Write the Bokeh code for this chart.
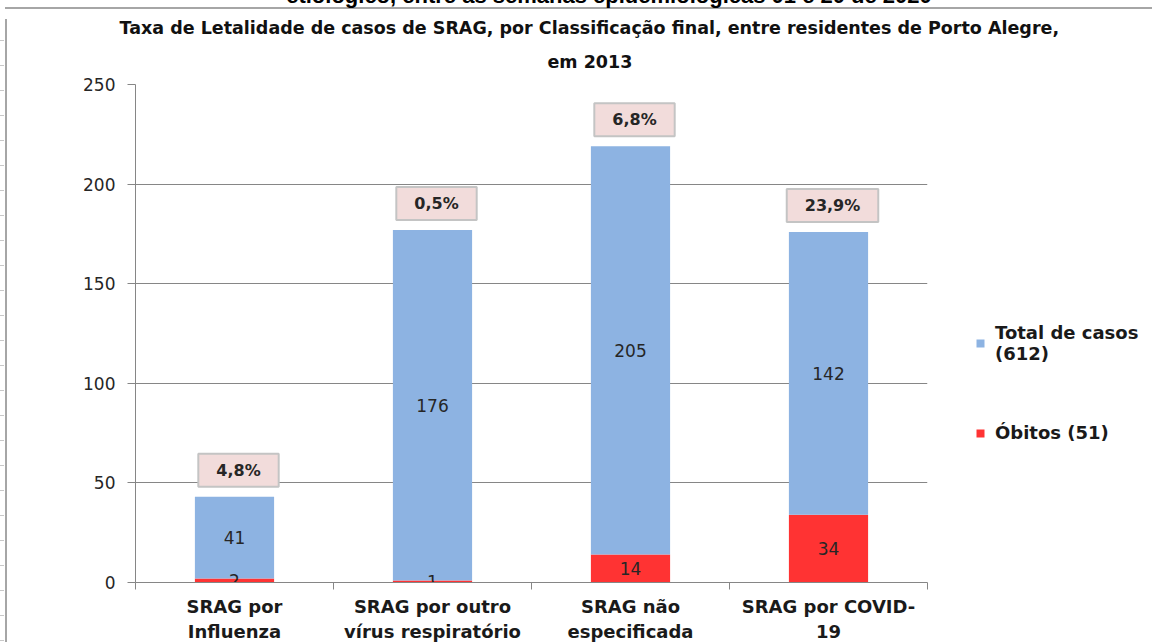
from bokeh.plotting import figure
from bokeh.models import (ColumnDataSource, Range1d, FixedTicker, Legend, LegendItem, Div, Title)
from bokeh.layouts import column, row
from bokeh.core.properties import value
from bokeh.embed import file_html
from bokeh.resources import INLINE

categories = ["SRAG por\nInfluenza", "SRAG por outro\nvírus respiratório",
              "SRAG não\nespecificada", "SRAG por COVID-\n19"]
obitos = [2, 1, 14, 34]
total_casos = [41, 176, 205, 142]
letalidade = ["4,8%", "0,5%", "6,8%", "23,9%"]
legend_labels = ["Total de casos\n(612)", "Óbitos (51)"]
y_ticks = [0, 50, 100, 150, 200, 250]
title_line1 = "Taxa de Letalidade de casos de SRAG, por Classificação final, entre residentes de Porto Alegre,"
title_line2 = "em 2013"
heading_text = "etiológico, entre as semanas epidemiológicas 01 e 20 de 2020"

BLUE = "#8db3e2"
RED = "#ff3333"
GRID = "#868686"
FRAME = "#a6a6a6"

xs = [i + 0.5 for i in range(len(categories))]
tops = [a + b for a, b in zip(obitos, total_casos)]
src = ColumnDataSource(dict(
    x=xs, obitos=obitos, casos=total_casos, top=tops,
    mid_ob=[o / 2 for o in obitos],
    mid_ca=[o + c / 2 for o, c in zip(obitos, total_casos)],
    lab_ob=[str(v) for v in obitos], lab_ca=[str(v) for v in total_casos],
    pct=letalidade,
))

TOPH, LEFTW = 4, 2
FW, FH = 792, 498
BL, BR, BT, BB = 123, 225, 70, 60
p = figure(frame_width=FW, frame_height=FH, output_backend="svg", toolbar_location=None,
           x_range=Range1d(0, len(categories)), y_range=Range1d(0, 250),
           min_border_left=BL, min_border_right=BR, min_border_top=BT, min_border_bottom=BB)
p.outline_line_color = None
p.background_fill_color = "white"
p.border_fill_color = "white"

rs = p.vbar_stack(["obitos", "casos"], x="x", width=0.4, source=src,
                  color=[RED, BLUE], line_color=None)

lab_font = value("DejaVu Sans")
p.text(x="x", y="mid_ca", text="lab_ca", source=src, text_align="center",
       text_baseline="middle", text_font=lab_font, text_font_size="17px", text_color="#262626")
p.text(x="x", y="mid_ob", text="lab_ob", source=src, text_align="center",
       text_baseline="middle", text_font=lab_font, text_font_size="17px", text_color="#262626")
p.text(x="x", y="top", text="pct", source=src, text_align="center",
       text_baseline="bottom", y_offset=-10, x_offset=4,
       text_font=value("DejaVu Sans"), text_font_style="bold", text_font_size="16px",
       text_color="#262626",
       background_fill_color="#f2dcdb", border_line_color="#c4c4c4", border_line_width=2,
       padding=dict(left=18, right=18, top=7, bottom=7))

# title: two lines (p.title is the outer one, the added Title sits next to the plot)
TFONT, TSIZE = "DejaVu Sans", "17.5px"
p.title.text = title_line1
p.title.align = "left"
p.title.offset = -16
p.title.standoff = 0
p.title.text_font = TFONT
p.title.text_font_style = "bold"
p.title.text_font_size = TSIZE
p.title.text_color = "#111111"
p.add_layout(Title(text=title_line2, align="left", offset=412, standoff=25,
                   text_font=TFONT, text_font_style="bold", text_font_size=TSIZE,
                   text_color="#111111"), "above")

# axes
p.xgrid.visible = False
p.ygrid.grid_line_color = GRID
p.ygrid.ticker = FixedTicker(ticks=y_ticks)

ya = p.yaxis[0]
ya.ticker = FixedTicker(ticks=y_ticks)
ya.axis_line_color = GRID
ya.major_tick_line_color = GRID
ya.major_tick_out = 8
ya.major_tick_in = 0
ya.minor_tick_line_color = None
ya.major_label_standoff = 12
ya.major_label_text_font = "DejaVu Sans"
ya.major_label_text_font_size = "17px"
ya.major_label_text_color = "#262626"

xa = p.xaxis[0]
xa.ticker = FixedTicker(ticks=xs, minor_ticks=list(range(len(categories) + 1)))
xa.major_label_overrides = {x: c for x, c in zip(xs, categories)}
xa.axis_line_color = GRID
xa.major_tick_line_color = None
xa.minor_tick_line_color = GRID
xa.minor_tick_out = 7
xa.minor_tick_in = 0
xa.major_label_standoff = 6
xa.major_label_text_font = "DejaVu Sans"
xa.major_label_text_font_style = "bold"
xa.major_label_text_font_size = "18px"
xa.major_label_text_line_height = 1.22
xa.major_label_text_color = "#1a1a1a"

legend = Legend(items=[LegendItem(label=legend_labels[0], renderers=[rs[1]]),
                       LegendItem(label=legend_labels[1], renderers=[rs[0]])],
                location=(48, 139), spacing=58, glyph_width=10, glyph_height=10,
                padding=0, margin=0,
                label_text_font="DejaVu Sans", label_text_font_style="bold",
                label_text_font_size="18px", label_text_color="#1a1a1a",
                border_line_color=None, background_fill_alpha=0, label_standoff=10)
p.add_layout(legend, "right")

# cut-off heading of the page above the chart (drawn into the page margin), outer border
top = Div(text=('<div style="position:relative;top:-20px;left:-8px;width:1224px;text-align:center;'
                'font-family:\'Liberation Sans\';font-weight:bold;font-size:22px;line-height:22px;'
                'color:#000;white-space:nowrap">' + heading_text + '</div>'),
          width=1152, height=TOPH,
          styles={"overflow": "visible", "border-bottom": "2px solid " + FRAME,
                  "box-sizing": "border-box"})
left = Div(text=('<div style="position:absolute;left:-6px;top:0px;width:5px;height:630px;'
                 'background-image:linear-gradient(to bottom, #c8c8c8 0px, #c8c8c8 1px, transparent 1px);'
                 'background-size:5px 25px;background-repeat:repeat-y;background-position:0px 21px">'
                 '</div>'),
           width=LEFTW, height=642 - TOPH - 8,
           styles={"overflow": "visible", "background": FRAME})

layout = column(top, row(left, p, spacing=0), spacing=0)
open("out.html", "w").write(file_html(layout, INLINE))
